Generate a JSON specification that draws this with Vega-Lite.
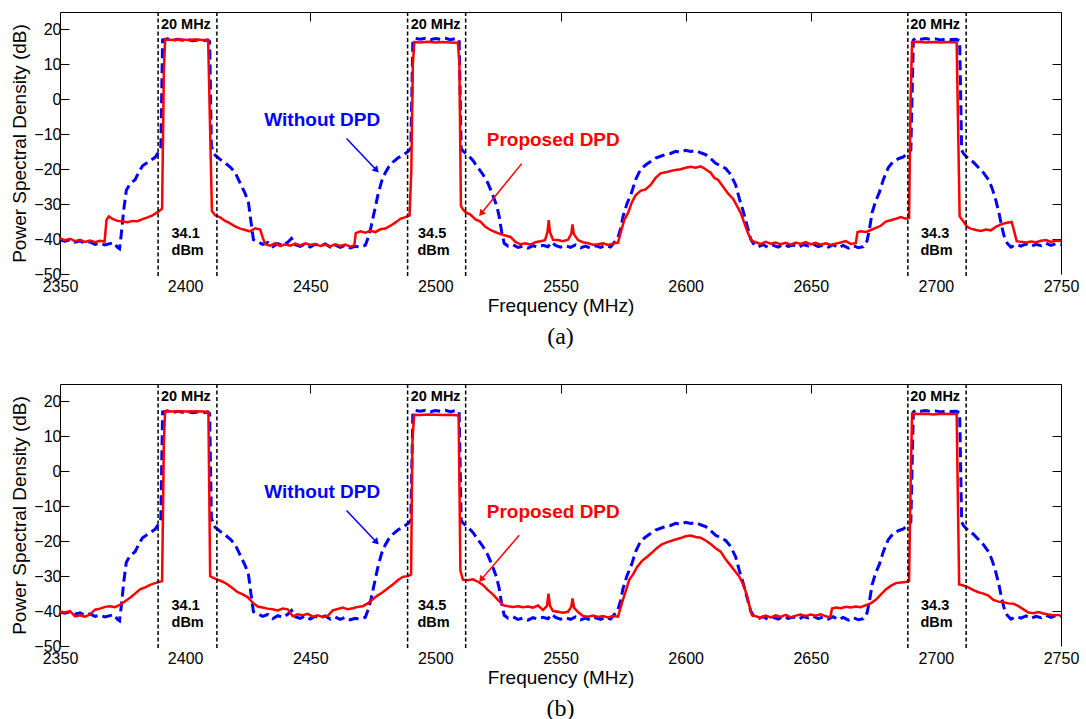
{
"$schema": "https://vega.github.io/schema/vega-lite/v6.json",
"padding": {"left": 10, "top": 11, "right": 23, "bottom": 5},
"background": "white",
"config": {
 "view": {"stroke": null},
 "axis": {"labelFont": "Liberation Sans", "labelFontSize": 16, "labelColor": "black", "titleFont": "Liberation Sans", "titleFontSize": 19, "titleFontWeight": "normal", "titleColor": "black", "domainColor": "black", "tickColor": "black", "grid": false, "domainWidth": 1, "tickWidth": 1, "labelFlush": false, "labelOverlap": false, "format": "d"}
},
"datasets": {
 "w": [{"f":2350,"v":-40.3},{"f":2352,"v":-40.6},{"f":2354,"v":-40.2},{"f":2356,"v":-40.9},{"f":2358,"v":-40.5},{"f":2360,"v":-41.2},{"f":2362,"v":-40.8},{"f":2364,"v":-41.5},{"f":2366,"v":-41.2},{"f":2368,"v":-41.7},{"f":2370,"v":-41.3},{"f":2371.5,"v":-41.0},{"f":2373,"v":-42.4},{"f":2373.8,"v":-42.8},{"f":2374.5,"v":-38.5},{"f":2375.5,"v":-31.5},{"f":2376.5,"v":-26},{"f":2378,"v":-24.2},{"f":2380,"v":-23},{"f":2381.5,"v":-20.8},{"f":2383,"v":-19},{"f":2384.5,"v":-18.3},{"f":2386,"v":-17.6},{"f":2388,"v":-16.6},{"f":2389.5,"v":-15},{"f":2390.3,"v":-13.5},{"f":2391,"v":17.0},{"f":2393,"v":17.3},{"f":2395,"v":16.8},{"f":2397,"v":17.2},{"f":2399,"v":16.9},{"f":2401,"v":17.1},{"f":2403,"v":16.8},{"f":2405,"v":17.0},{"f":2407,"v":16.7},{"f":2409,"v":17.0},{"f":2409.8,"v":16.5},{"f":2410.5,"v":-13.5},{"f":2412,"v":-16},{"f":2414,"v":-17.2},{"f":2416,"v":-18.2},{"f":2418,"v":-19.4},{"f":2420,"v":-21},{"f":2422,"v":-24},{"f":2424,"v":-27},{"f":2425.3,"v":-29.5},{"f":2426.3,"v":-35},{"f":2427.3,"v":-40.2},{"f":2429,"v":-40.8},{"f":2431,"v":-41.5},{"f":2433,"v":-41.0},{"f":2435,"v":-42.2},{"f":2437,"v":-41.3},{"f":2439,"v":-41.8},{"f":2441,"v":-40.9},{"f":2442.5,"v":-39.8},{"f":2444,"v":-41.6},{"f":2446,"v":-42.1},{"f":2448,"v":-41.4},{"f":2450,"v":-42.3},{"f":2452,"v":-41.5},{"f":2454,"v":-42.0},{"f":2456,"v":-41.4},{"f":2458,"v":-42.3},{"f":2460,"v":-41.7},{"f":2462,"v":-42.4},{"f":2464,"v":-41.8},{"f":2466,"v":-42.5},{"f":2468,"v":-42.1},{"f":2470,"v":-42.3},{"f":2472,"v":-41.8},{"f":2473.2,"v":-39.5},{"f":2474.3,"v":-36.5},{"f":2475.5,"v":-32.5},{"f":2477,"v":-27.5},{"f":2478.5,"v":-23.5},{"f":2480,"v":-21},{"f":2481.5,"v":-19.2},{"f":2483,"v":-18},{"f":2485,"v":-16.8},{"f":2487,"v":-16},{"f":2489,"v":-15},{"f":2490.2,"v":-14},{"f":2491,"v":17.0},{"f":2492,"v":17.4},{"f":2494,"v":17.2},{"f":2496,"v":17.5},{"f":2498,"v":17.1},{"f":2500,"v":17.4},{"f":2502,"v":17.2},{"f":2504,"v":17.5},{"f":2506,"v":17.1},{"f":2508,"v":17.4},{"f":2509.5,"v":17.0},{"f":2510.3,"v":-14},{"f":2511,"v":-14.8},{"f":2513,"v":-16},{"f":2515,"v":-17.5},{"f":2517,"v":-19.5},{"f":2519,"v":-21.5},{"f":2521,"v":-24},{"f":2523,"v":-27.5},{"f":2524.5,"v":-30.5},{"f":2525.5,"v":-33.5},{"f":2526.5,"v":-38},{"f":2527.5,"v":-41.2},{"f":2529,"v":-42.0},{"f":2531,"v":-41.6},{"f":2533,"v":-42.4},{"f":2535,"v":-42.0},{"f":2537,"v":-42.6},{"f":2539,"v":-41.9},{"f":2541,"v":-42.3},{"f":2543,"v":-41.8},{"f":2545,"v":-42.2},{"f":2546.5,"v":-40.9},{"f":2548,"v":-41.8},{"f":2550,"v":-42.3},{"f":2552,"v":-41.9},{"f":2554,"v":-42.4},{"f":2556,"v":-41.7},{"f":2558,"v":-42.5},{"f":2560,"v":-42.0},{"f":2562,"v":-42.6},{"f":2564,"v":-41.9},{"f":2566,"v":-42.4},{"f":2568,"v":-41.8},{"f":2570,"v":-42.3},{"f":2571.5,"v":-41.0},{"f":2573,"v":-39.5},{"f":2574,"v":-37},{"f":2575,"v":-33.5},{"f":2576.5,"v":-30},{"f":2578.5,"v":-26.5},{"f":2580,"v":-23},{"f":2582,"v":-20},{"f":2584,"v":-18.8},{"f":2586,"v":-17.8},{"f":2588,"v":-16.8},{"f":2590,"v":-16.3},{"f":2592,"v":-15.8},{"f":2594,"v":-15.5},{"f":2596,"v":-14.9},{"f":2598,"v":-15.2},{"f":2600,"v":-14.6},{"f":2602,"v":-14.9},{"f":2604,"v":-14.7},{"f":2606,"v":-15.3},{"f":2608,"v":-15.8},{"f":2610,"v":-17.0},{"f":2612,"v":-18.3},{"f":2614,"v":-19.0},{"f":2616,"v":-19.8},{"f":2618,"v":-21.5},{"f":2620,"v":-24.5},{"f":2621.5,"v":-28.5},{"f":2623,"v":-32},{"f":2624.5,"v":-36},{"f":2626,"v":-40},{"f":2627.5,"v":-41.8},{"f":2629,"v":-42.2},{"f":2631,"v":-41.6},{"f":2633,"v":-42.4},{"f":2635,"v":-41.8},{"f":2637,"v":-42.3},{"f":2639,"v":-41.5},{"f":2641,"v":-42.1},{"f":2643,"v":-41.7},{"f":2645,"v":-42.4},{"f":2647,"v":-41.6},{"f":2649,"v":-42.0},{"f":2651,"v":-41.5},{"f":2653,"v":-42.2},{"f":2655,"v":-41.7},{"f":2657,"v":-42.3},{"f":2659,"v":-41.6},{"f":2661,"v":-42.5},{"f":2663,"v":-41.8},{"f":2665,"v":-42.6},{"f":2667,"v":-41.9},{"f":2669,"v":-42.5},{"f":2671,"v":-42.2},{"f":2672.5,"v":-40.5},{"f":2673.5,"v":-37},{"f":2674.5,"v":-32.5},{"f":2676,"v":-29},{"f":2677.5,"v":-26.5},{"f":2679,"v":-23},{"f":2681,"v":-19.5},{"f":2683,"v":-17.8},{"f":2685,"v":-17.0},{"f":2687,"v":-16.5},{"f":2688.5,"v":-15.5},{"f":2690,"v":-14.5},{"f":2691,"v":17.0},{"f":2692,"v":17.5},{"f":2694,"v":17.2},{"f":2696,"v":17.4},{"f":2698,"v":17.1},{"f":2700,"v":17.3},{"f":2702,"v":17.0},{"f":2704,"v":17.3},{"f":2706,"v":17.1},{"f":2708,"v":17.2},{"f":2709.5,"v":16.8},{"f":2710.3,"v":-14.5},{"f":2711,"v":-15.5},{"f":2713,"v":-17},{"f":2715,"v":-18},{"f":2717,"v":-19.5},{"f":2719,"v":-21},{"f":2721,"v":-23},{"f":2722.5,"v":-25.5},{"f":2724,"v":-29},{"f":2725.2,"v":-32.5},{"f":2726.2,"v":-36},{"f":2727.2,"v":-39},{"f":2728.5,"v":-41.2},{"f":2730,"v":-42.3},{"f":2732,"v":-41.6},{"f":2734,"v":-42.0},{"f":2736,"v":-41.4},{"f":2738,"v":-42.1},{"f":2740,"v":-41.5},{"f":2742,"v":-41.9},{"f":2744,"v":-41.2},{"f":2746,"v":-41.8},{"f":2748,"v":-41.3},{"f":2750,"v":-41.6}],
 "pa": [{"f":2350,"v":-39.8},{"f":2352,"v":-40.3},{"f":2354,"v":-39.9},{"f":2356,"v":-40.6},{"f":2358,"v":-40.2},{"f":2360,"v":-40.8},{"f":2362,"v":-40.4},{"f":2364,"v":-40.9},{"f":2366,"v":-40.5},{"f":2367.8,"v":-40.7},{"f":2368.6,"v":-34.5},{"f":2369.5,"v":-33.5},{"f":2371,"v":-34.2},{"f":2373,"v":-34.8},{"f":2375,"v":-35.0},{"f":2377,"v":-35.2},{"f":2379,"v":-34.8},{"f":2381,"v":-34.9},{"f":2383,"v":-34.3},{"f":2385,"v":-33.8},{"f":2387,"v":-33.2},{"f":2389,"v":-32.3},{"f":2390.8,"v":-31.3},{"f":2391.5,"v":8},{"f":2392,"v":17.1},{"f":2395,"v":17.0},{"f":2398,"v":17.1},{"f":2401,"v":17.0},{"f":2404,"v":17.1},{"f":2407,"v":17.0},{"f":2409.2,"v":17.0},{"f":2410.7,"v":-32.0},{"f":2412,"v":-33.2},{"f":2414,"v":-33.8},{"f":2416,"v":-34.8},{"f":2418,"v":-35.5},{"f":2420,"v":-36.4},{"f":2422,"v":-37.0},{"f":2424,"v":-37.4},{"f":2426,"v":-37.8},{"f":2428,"v":-36.9},{"f":2430,"v":-37.3},{"f":2431,"v":-39.5},{"f":2432,"v":-41.5},{"f":2434,"v":-41.9},{"f":2436,"v":-41.2},{"f":2438,"v":-42.0},{"f":2440,"v":-41.5},{"f":2442,"v":-41.9},{"f":2444,"v":-41.3},{"f":2446,"v":-41.8},{"f":2448,"v":-41.2},{"f":2450,"v":-41.7},{"f":2452,"v":-41.4},{"f":2454,"v":-42.0},{"f":2456,"v":-41.6},{"f":2458,"v":-42.1},{"f":2460,"v":-41.5},{"f":2462,"v":-42.0},{"f":2464,"v":-41.6},{"f":2466,"v":-42.2},{"f":2467.6,"v":-41.8},{"f":2468.2,"v":-38.3},{"f":2470,"v":-37.8},{"f":2472,"v":-38.2},{"f":2474,"v":-37.6},{"f":2476,"v":-38.0},{"f":2478,"v":-37.2},{"f":2480,"v":-37.0},{"f":2482,"v":-36.2},{"f":2484,"v":-35.3},{"f":2486,"v":-34.2},{"f":2488,"v":-33.7},{"f":2489.7,"v":-33.2},{"f":2490.4,"v":-20},{"f":2491,"v":10},{"f":2491.6,"v":16.4},{"f":2494,"v":16.3},{"f":2497,"v":16.5},{"f":2500,"v":16.3},{"f":2503,"v":16.4},{"f":2506,"v":16.3},{"f":2509,"v":16.2},{"f":2509.6,"v":10},{"f":2510.2,"v":-30.5},{"f":2511,"v":-31.5},{"f":2512,"v":-32.3},{"f":2514,"v":-33.0},{"f":2516,"v":-34.4},{"f":2518,"v":-35.0},{"f":2520,"v":-36.5},{"f":2522,"v":-37.4},{"f":2524,"v":-38.0},{"f":2526,"v":-38.6},{"f":2528,"v":-39.0},{"f":2530,"v":-39.4},{"f":2532,"v":-40.8},{"f":2534,"v":-41.5},{"f":2536,"v":-41.2},{"f":2538,"v":-41.6},{"f":2540,"v":-40.9},{"f":2542,"v":-40.6},{"f":2543.8,"v":-40.3},{"f":2544.8,"v":-38},{"f":2545.3,"v":-34.6},{"f":2545.8,"v":-38},{"f":2547,"v":-40.2},{"f":2549,"v":-40.3},{"f":2551,"v":-40.6},{"f":2553,"v":-40.2},{"f":2554.3,"v":-38.5},{"f":2554.8,"v":-35.8},{"f":2555.3,"v":-38.5},{"f":2557,"v":-40.3},{"f":2559,"v":-40.9},{"f":2561,"v":-41.2},{"f":2563,"v":-41.6},{"f":2565,"v":-41.5},{"f":2567,"v":-41.2},{"f":2569,"v":-41.7},{"f":2571,"v":-41.3},{"f":2573,"v":-41.0},{"f":2574.3,"v":-37.5},{"f":2575.5,"v":-34.5},{"f":2577,"v":-32.5},{"f":2578.5,"v":-29.5},{"f":2580,"v":-27.5},{"f":2582,"v":-26.2},{"f":2584,"v":-25.8},{"f":2586,"v":-24.5},{"f":2588,"v":-22.5},{"f":2590,"v":-21.2},{"f":2592,"v":-20.9},{"f":2594,"v":-20.5},{"f":2596,"v":-20.2},{"f":2598,"v":-20.0},{"f":2600,"v":-19.6},{"f":2602,"v":-19.3},{"f":2604,"v":-19.6},{"f":2606,"v":-19.2},{"f":2608,"v":-20.0},{"f":2610,"v":-21.0},{"f":2611.5,"v":-22.5},{"f":2613,"v":-23.1},{"f":2615,"v":-25.0},{"f":2617,"v":-27.0},{"f":2619,"v":-28.5},{"f":2620.5,"v":-30.5},{"f":2622,"v":-32.5},{"f":2623.5,"v":-35.5},{"f":2625,"v":-38.5},{"f":2626.5,"v":-40.5},{"f":2628,"v":-40.9},{"f":2630,"v":-41.4},{"f":2632,"v":-40.8},{"f":2634,"v":-41.3},{"f":2636,"v":-41.0},{"f":2638,"v":-41.5},{"f":2640,"v":-41.1},{"f":2642,"v":-41.6},{"f":2644,"v":-41.0},{"f":2646,"v":-41.4},{"f":2648,"v":-40.9},{"f":2650,"v":-41.5},{"f":2652,"v":-41.1},{"f":2654,"v":-41.6},{"f":2656,"v":-41.2},{"f":2658,"v":-41.7},{"f":2660,"v":-41.3},{"f":2662,"v":-41.0},{"f":2664,"v":-40.6},{"f":2666,"v":-41.4},{"f":2668,"v":-41.2},{"f":2668.7,"v":-38.0},{"f":2670,"v":-37.8},{"f":2672,"v":-38.0},{"f":2674,"v":-37.4},{"f":2676,"v":-36.8},{"f":2678,"v":-36.2},{"f":2680,"v":-35.0},{"f":2682,"v":-34.6},{"f":2684,"v":-34.2},{"f":2686,"v":-33.7},{"f":2688,"v":-34.2},{"f":2689.3,"v":-34.0},{"f":2689.9,"v":0},{"f":2690.5,"v":16.4},{"f":2693,"v":16.5},{"f":2696,"v":16.3},{"f":2699,"v":16.4},{"f":2702,"v":16.3},{"f":2705,"v":16.4},{"f":2708.3,"v":16.3},{"f":2709.5,"v":-33.5},{"f":2711,"v":-35.0},{"f":2712.5,"v":-36.5},{"f":2714,"v":-37.0},{"f":2716,"v":-37.4},{"f":2718,"v":-37.7},{"f":2720,"v":-37.3},{"f":2722,"v":-37.5},{"f":2724,"v":-36.5},{"f":2726,"v":-35.8},{"f":2728,"v":-35.4},{"f":2730.3,"v":-35.1},{"f":2731.2,"v":-37.5},{"f":2732.3,"v":-40.6},{"f":2734,"v":-40.8},{"f":2736,"v":-41.0},{"f":2738,"v":-40.7},{"f":2740,"v":-40.9},{"f":2742,"v":-40.5},{"f":2744,"v":-40.3},{"f":2746,"v":-40.8},{"f":2748,"v":-40.4},{"f":2750,"v":-40.6}],
 "pb": [{"f":2350,"v":-40.1},{"f":2352,"v":-40.4},{"f":2354,"v":-40.0},{"f":2356,"v":-41.5},{"f":2358,"v":-41.2},{"f":2360,"v":-41.6},{"f":2362,"v":-41.0},{"f":2364,"v":-39.6},{"f":2366,"v":-39.3},{"f":2368,"v":-38.8},{"f":2370,"v":-38.6},{"f":2372,"v":-38.9},{"f":2374,"v":-38.2},{"f":2376,"v":-37.2},{"f":2378,"v":-36.2},{"f":2380,"v":-35.0},{"f":2382,"v":-33.8},{"f":2384,"v":-33.2},{"f":2386,"v":-32.5},{"f":2388,"v":-32.0},{"f":2390.8,"v":-31.4},{"f":2391.5,"v":8},{"f":2392,"v":17.2},{"f":2395,"v":17.1},{"f":2398,"v":17.2},{"f":2401,"v":17.1},{"f":2404,"v":17.2},{"f":2407,"v":17.1},{"f":2409.3,"v":17.0},{"f":2410,"v":-30.0},{"f":2411,"v":-30.4},{"f":2413,"v":-31.0},{"f":2415,"v":-31.6},{"f":2417,"v":-32.4},{"f":2419,"v":-33.5},{"f":2421,"v":-34.6},{"f":2423,"v":-35.2},{"f":2425,"v":-36.0},{"f":2427,"v":-37.6},{"f":2429,"v":-38.7},{"f":2431,"v":-39.0},{"f":2433,"v":-39.3},{"f":2435,"v":-39.5},{"f":2437,"v":-39.8},{"f":2439,"v":-39.3},{"f":2441,"v":-39.5},{"f":2443,"v":-41.5},{"f":2445,"v":-40.9},{"f":2447,"v":-41.2},{"f":2449,"v":-40.8},{"f":2451,"v":-41.6},{"f":2453,"v":-41.2},{"f":2455,"v":-41.7},{"f":2457,"v":-41.4},{"f":2459,"v":-39.8},{"f":2461,"v":-39.4},{"f":2463,"v":-39.0},{"f":2465,"v":-39.5},{"f":2467,"v":-39.2},{"f":2469,"v":-38.8},{"f":2471,"v":-38.6},{"f":2473,"v":-37.8},{"f":2475,"v":-36.6},{"f":2477,"v":-35.5},{"f":2479,"v":-34.6},{"f":2481,"v":-33.5},{"f":2483,"v":-32.4},{"f":2485,"v":-31.2},{"f":2487,"v":-30.2},{"f":2489,"v":-30.0},{"f":2490.3,"v":-29.5},{"f":2490.8,"v":8},{"f":2491.5,"v":16.2},{"f":2494,"v":16.1},{"f":2497,"v":16.3},{"f":2500,"v":16.2},{"f":2503,"v":16.1},{"f":2506,"v":16.2},{"f":2509.3,"v":16.0},{"f":2510,"v":-28.5},{"f":2511,"v":-31.0},{"f":2513,"v":-31.2},{"f":2515,"v":-30.9},{"f":2517,"v":-31.6},{"f":2519,"v":-32.5},{"f":2521,"v":-34.0},{"f":2523,"v":-35.2},{"f":2525,"v":-36.8},{"f":2527,"v":-38.3},{"f":2529,"v":-38.6},{"f":2531,"v":-38.8},{"f":2533,"v":-38.6},{"f":2535,"v":-38.9},{"f":2537,"v":-38.7},{"f":2539,"v":-39.0},{"f":2541,"v":-38.4},{"f":2543,"v":-39.7},{"f":2544.6,"v":-38.5},{"f":2545.2,"v":-35.0},{"f":2545.8,"v":-38.5},{"f":2547,"v":-40.0},{"f":2549,"v":-40.2},{"f":2551,"v":-40.5},{"f":2553,"v":-40.2},{"f":2554.3,"v":-38.8},{"f":2554.8,"v":-36.4},{"f":2555.4,"v":-39.0},{"f":2557,"v":-40.3},{"f":2559,"v":-41.4},{"f":2561,"v":-41.6},{"f":2563,"v":-41.3},{"f":2565,"v":-41.7},{"f":2567,"v":-41.4},{"f":2569,"v":-41.8},{"f":2571,"v":-41.4},{"f":2573,"v":-41.6},{"f":2574.5,"v":-37.8},{"f":2576,"v":-34.4},{"f":2577.5,"v":-31.0},{"f":2579,"v":-29.5},{"f":2580.5,"v":-27.5},{"f":2582.5,"v":-25.7},{"f":2584.5,"v":-24.5},{"f":2586.5,"v":-23.3},{"f":2588.5,"v":-22.0},{"f":2590.5,"v":-20.9},{"f":2593,"v":-20.2},{"f":2596,"v":-19.5},{"f":2598,"v":-19.1},{"f":2600,"v":-18.6},{"f":2602,"v":-18.4},{"f":2604,"v":-18.8},{"f":2606,"v":-19.0},{"f":2608,"v":-19.8},{"f":2610,"v":-20.8},{"f":2612,"v":-22.0},{"f":2614,"v":-23.0},{"f":2616,"v":-25.2},{"f":2618,"v":-27.0},{"f":2620,"v":-28.8},{"f":2621.5,"v":-30.2},{"f":2623,"v":-32.4},{"f":2624.5,"v":-35.5},{"f":2625.5,"v":-38.5},{"f":2626.5,"v":-41.2},{"f":2628,"v":-41.5},{"f":2630,"v":-41.9},{"f":2632,"v":-41.3},{"f":2634,"v":-41.8},{"f":2636,"v":-41.2},{"f":2638,"v":-41.7},{"f":2640,"v":-41.1},{"f":2642,"v":-41.8},{"f":2644,"v":-41.3},{"f":2646,"v":-41.0},{"f":2648,"v":-41.4},{"f":2650,"v":-41.0},{"f":2652,"v":-41.3},{"f":2654,"v":-40.9},{"f":2656,"v":-41.5},{"f":2657.8,"v":-41.8},{"f":2658.5,"v":-39.3},{"f":2660,"v":-39.0},{"f":2662,"v":-39.2},{"f":2664,"v":-38.8},{"f":2666,"v":-39.0},{"f":2668,"v":-38.7},{"f":2670,"v":-38.9},{"f":2672,"v":-38.3},{"f":2674,"v":-37.8},{"f":2676,"v":-36.8},{"f":2678,"v":-35.3},{"f":2680,"v":-33.8},{"f":2682,"v":-32.8},{"f":2684,"v":-32.0},{"f":2686,"v":-31.8},{"f":2688,"v":-31.7},{"f":2689.3,"v":-31.4},{"f":2690,"v":0},{"f":2690.5,"v":16.5},{"f":2693,"v":16.4},{"f":2696,"v":16.5},{"f":2699,"v":16.3},{"f":2702,"v":16.5},{"f":2705,"v":16.4},{"f":2708.3,"v":16.4},{"f":2709.3,"v":-32.4},{"f":2711,"v":-32.7},{"f":2713,"v":-33.2},{"f":2715,"v":-34.0},{"f":2717,"v":-34.6},{"f":2719,"v":-35.0},{"f":2721,"v":-35.6},{"f":2723,"v":-36.8},{"f":2725,"v":-37.3},{"f":2727,"v":-37.5},{"f":2729,"v":-37.8},{"f":2731,"v":-37.9},{"f":2733,"v":-38.6},{"f":2735,"v":-39.5},{"f":2737,"v":-40.4},{"f":2739,"v":-40.6},{"f":2741,"v":-40.3},{"f":2743,"v":-40.7},{"f":2745,"v":-41.0},{"f":2747,"v":-41.2},{"f":2749,"v":-41.1},{"f":2750,"v":-41.4}],
 "vl": [{"f":2389.2},{"f":2412.7},{"f":2488.9},{"f":2512.1},{"f":2688.8},{"f":2712.1}],
 "bt": [{"f":2400.3,"v":20.2,"t":"20 MHz"},{"f":2500.1,"v":20.2,"t":"20 MHz"},{"f":2699.7,"v":20.2,"t":"20 MHz"},{"f":2400.2,"v":-39.8,"t":"34.1"},{"f":2401,"v":-44.6,"t":"dBm"},{"f":2498.7,"v":-39.8,"t":"34.5"},{"f":2499.3,"v":-44.6,"t":"dBm"},{"f":2699.7,"v":-39.8,"t":"34.3"},{"f":2700.3,"v":-44.6,"t":"dBm"}],
 "ann": [{"c":"w","f":2454.8,"v":-7.7,"t":"Without DPD"},{"c":"p","f":2547.1,"v":-13.3,"t":"Proposed DPD"}],
 "arr": [{"p":"a","c":"w","f":2464.5,"v":-11.2,"f2":2476.5,"v2":-20.3},{"p":"a","c":"p","f":2534.5,"v":-18.4,"f2":2518.3,"v2":-32.7},{"p":"b","c":"w","f":2464.5,"v":-11.2,"f2":2476.5,"v2":-20.3},{"p":"b","c":"p","f":2533.5,"v":-18.3,"f2":2518.3,"v2":-31.0}]
},
"spacing": 110,
"bounds": "flush",
"vconcat": [
 {
  "width": 1001, "height": 262,
  "title": {"text": "(a)", "orient": "bottom", "font": "Liberation Serif", "fontSize": 24, "fontWeight": "normal", "offset": 10, "color": "black"},
  "resolve": {"axis": {"x": "independent", "y": "independent"}},
  "layer": [
   {"data": {"name": "w"}, "mark": {"type": "line", "color": "#0000FF", "strokeWidth": 3, "strokeDash": [10,5]},
    "encoding": {
     "x": {"field": "f", "type": "quantitative", "scale": {"domain": [2350,2750], "nice": false, "zero": false}, "axis": {"orient": "bottom", "values": [2350,2400,2450,2500,2550,2600,2650,2700,2750], "domain": false, "ticks": false, "labelPadding": 4, "title": "Frequency (MHz)", "titlePadding": 2}},
     "y": {"field": "v", "type": "quantitative", "scale": {"domain": [-50,25], "nice": false, "zero": false}, "axis": {"orient": "left", "values": [-50,-40,-30,-20,-10,0,10,20], "tickSize": -9, "labelPadding": 8, "title": "Power Spectral Density (dB)", "titlePadding": 4}}}},
   {"data": {"name": "pa"}, "mark": {"type": "line", "color": "#FF0000", "strokeWidth": 2.5},
    "encoding": {
     "x": {"field": "f", "type": "quantitative", "scale": {"domain": [2350,2750], "nice": false, "zero": false}, "axis": {"orient": "top", "values": [2450,2550,2600,2650], "labels": false, "tickSize": -9, "title": null}},
     "y": {"field": "v", "type": "quantitative", "scale": {"domain": [-50,25], "nice": false, "zero": false}, "axis": {"orient": "right", "values": [-40,-30,-20,-10,0,10], "labels": false, "tickSize": -9, "title": null}}}},
   {"data": {"name": "vl"}, "mark": {"type": "rule", "color": "black", "strokeWidth": 1.5, "strokeDash": [4,2.5]},
    "encoding": {"x": {"field": "f", "type": "quantitative", "scale": {"domain": [2350,2750], "nice": false, "zero": false}, "axis": null}, "y": {"datum": 25, "type": "quantitative", "scale": {"domain": [-50,25], "nice": false, "zero": false}, "axis": null}, "y2": {"datum": -51.2}}},
   {"data": {"name": "bt"}, "mark": {"type": "text", "font": "Liberation Sans", "fontWeight": "bold", "fontSize": 14.5, "color": "black", "align": "center", "baseline": "alphabetic"},
    "encoding": {"x": {"field": "f", "type": "quantitative", "axis": null}, "y": {"field": "v", "type": "quantitative", "axis": null}, "text": {"field": "t"}}},
   {"data": {"name": "ann"}, "transform": [{"filter": "datum.c == 'w'"}], "mark": {"type": "text", "font": "Liberation Sans", "fontWeight": "bold", "fontSize": 19, "color": "#0000FF", "align": "center", "baseline": "alphabetic"},
    "encoding": {"x": {"field": "f", "type": "quantitative", "axis": null}, "y": {"field": "v", "type": "quantitative", "axis": null}, "text": {"field": "t"}}},
   {"data": {"name": "ann"}, "transform": [{"filter": "datum.c == 'p'"}], "mark": {"type": "text", "font": "Liberation Sans", "fontWeight": "bold", "fontSize": 19, "color": "#FF0000", "align": "center", "baseline": "alphabetic"},
    "encoding": {"x": {"field": "f", "type": "quantitative", "axis": null}, "y": {"field": "v", "type": "quantitative", "axis": null}, "text": {"field": "t"}}},
   {"data": {"name": "arr"}, "transform": [{"filter": "datum.p == 'a' && datum.c == 'w'"}], "mark": {"type": "rule", "color": "#0000FF", "strokeWidth": 1.5},
    "encoding": {"x": {"field": "f", "type": "quantitative", "axis": null}, "y": {"field": "v", "type": "quantitative", "axis": null}, "x2": {"field": "f2"}, "y2": {"field": "v2"}}},
   {"data": {"name": "arr"}, "transform": [{"filter": "datum.p == 'a' && datum.c == 'p'"}], "mark": {"type": "rule", "color": "#FF0000", "strokeWidth": 1.5},
    "encoding": {"x": {"field": "f", "type": "quantitative", "axis": null}, "y": {"field": "v", "type": "quantitative", "axis": null}, "x2": {"field": "f2"}, "y2": {"field": "v2"}}},
   {"data": {"name": "arr"}, "transform": [{"filter": "datum.p == 'a' && datum.c == 'w'"}], "mark": {"type": "point", "shape": "triangle-up", "filled": true, "opacity": 1, "size": 55, "angle": 137, "color": "#0000FF"},
    "encoding": {"x": {"field": "f2", "type": "quantitative", "axis": null}, "y": {"field": "v2", "type": "quantitative", "axis": null}}},
   {"data": {"name": "arr"}, "transform": [{"filter": "datum.p == 'a' && datum.c == 'p'"}], "mark": {"type": "point", "shape": "triangle-up", "filled": true, "opacity": 1, "size": 55, "angle": 219, "color": "#FF0000"},
    "encoding": {"x": {"field": "f2", "type": "quantitative", "axis": null}, "y": {"field": "v2", "type": "quantitative", "axis": null}}}
  ]
 },
 {
  "width": 1001, "height": 262,
  "title": {"text": "(b)", "orient": "bottom", "font": "Liberation Serif", "fontSize": 24, "fontWeight": "normal", "offset": 10, "color": "black"},
  "resolve": {"axis": {"x": "independent", "y": "independent"}},
  "layer": [
   {"data": {"name": "w"}, "mark": {"type": "line", "color": "#0000FF", "strokeWidth": 3, "strokeDash": [10,5]},
    "encoding": {
     "x": {"field": "f", "type": "quantitative", "scale": {"domain": [2350,2750], "nice": false, "zero": false}, "axis": {"orient": "bottom", "values": [2350,2400,2450,2500,2550,2600,2650,2700,2750], "domain": false, "ticks": false, "labelPadding": 4, "title": "Frequency (MHz)", "titlePadding": 2}},
     "y": {"field": "v", "type": "quantitative", "scale": {"domain": [-50,25], "nice": false, "zero": false}, "axis": {"orient": "left", "values": [-50,-40,-30,-20,-10,0,10,20], "tickSize": -9, "labelPadding": 8, "title": "Power Spectral Density (dB)", "titlePadding": 4}}}},
   {"data": {"name": "pb"}, "mark": {"type": "line", "color": "#FF0000", "strokeWidth": 2.5},
    "encoding": {
     "x": {"field": "f", "type": "quantitative", "scale": {"domain": [2350,2750], "nice": false, "zero": false}, "axis": {"orient": "top", "values": [2450,2550,2600,2650], "labels": false, "tickSize": -9, "title": null}},
     "y": {"field": "v", "type": "quantitative", "scale": {"domain": [-50,25], "nice": false, "zero": false}, "axis": {"orient": "right", "values": [-40,-30,-20,-10,0,10], "labels": false, "tickSize": -9, "title": null}}}},
   {"data": {"name": "vl"}, "mark": {"type": "rule", "color": "black", "strokeWidth": 1.5, "strokeDash": [4,2.5]},
    "encoding": {"x": {"field": "f", "type": "quantitative", "scale": {"domain": [2350,2750], "nice": false, "zero": false}, "axis": null}, "y": {"datum": 25, "type": "quantitative", "scale": {"domain": [-50,25], "nice": false, "zero": false}, "axis": null}, "y2": {"datum": -51.2}}},
   {"data": {"name": "bt"}, "mark": {"type": "text", "font": "Liberation Sans", "fontWeight": "bold", "fontSize": 14.5, "color": "black", "align": "center", "baseline": "alphabetic"},
    "encoding": {"x": {"field": "f", "type": "quantitative", "axis": null}, "y": {"field": "v", "type": "quantitative", "axis": null}, "text": {"field": "t"}}},
   {"data": {"name": "ann"}, "transform": [{"filter": "datum.c == 'w'"}], "mark": {"type": "text", "font": "Liberation Sans", "fontWeight": "bold", "fontSize": 19, "color": "#0000FF", "align": "center", "baseline": "alphabetic"},
    "encoding": {"x": {"field": "f", "type": "quantitative", "axis": null}, "y": {"field": "v", "type": "quantitative", "axis": null}, "text": {"field": "t"}}},
   {"data": {"name": "ann"}, "transform": [{"filter": "datum.c == 'p'"}], "mark": {"type": "text", "font": "Liberation Sans", "fontWeight": "bold", "fontSize": 19, "color": "#FF0000", "align": "center", "baseline": "alphabetic"},
    "encoding": {"x": {"field": "f", "type": "quantitative", "axis": null}, "y": {"field": "v", "type": "quantitative", "axis": null}, "text": {"field": "t"}}},
   {"data": {"name": "arr"}, "transform": [{"filter": "datum.p == 'b' && datum.c == 'w'"}], "mark": {"type": "rule", "color": "#0000FF", "strokeWidth": 1.5},
    "encoding": {"x": {"field": "f", "type": "quantitative", "axis": null}, "y": {"field": "v", "type": "quantitative", "axis": null}, "x2": {"field": "f2"}, "y2": {"field": "v2"}}},
   {"data": {"name": "arr"}, "transform": [{"filter": "datum.p == 'b' && datum.c == 'p'"}], "mark": {"type": "rule", "color": "#FF0000", "strokeWidth": 1.5},
    "encoding": {"x": {"field": "f", "type": "quantitative", "axis": null}, "y": {"field": "v", "type": "quantitative", "axis": null}, "x2": {"field": "f2"}, "y2": {"field": "v2"}}},
   {"data": {"name": "arr"}, "transform": [{"filter": "datum.p == 'b' && datum.c == 'w'"}], "mark": {"type": "point", "shape": "triangle-up", "filled": true, "opacity": 1, "size": 55, "angle": 137, "color": "#0000FF"},
    "encoding": {"x": {"field": "f2", "type": "quantitative", "axis": null}, "y": {"field": "v2", "type": "quantitative", "axis": null}}},
   {"data": {"name": "arr"}, "transform": [{"filter": "datum.p == 'b' && datum.c == 'p'"}], "mark": {"type": "point", "shape": "triangle-up", "filled": true, "opacity": 1, "size": 55, "angle": 219, "color": "#FF0000"},
    "encoding": {"x": {"field": "f2", "type": "quantitative", "axis": null}, "y": {"field": "v2", "type": "quantitative", "axis": null}}}
  ]
 }
]
}
